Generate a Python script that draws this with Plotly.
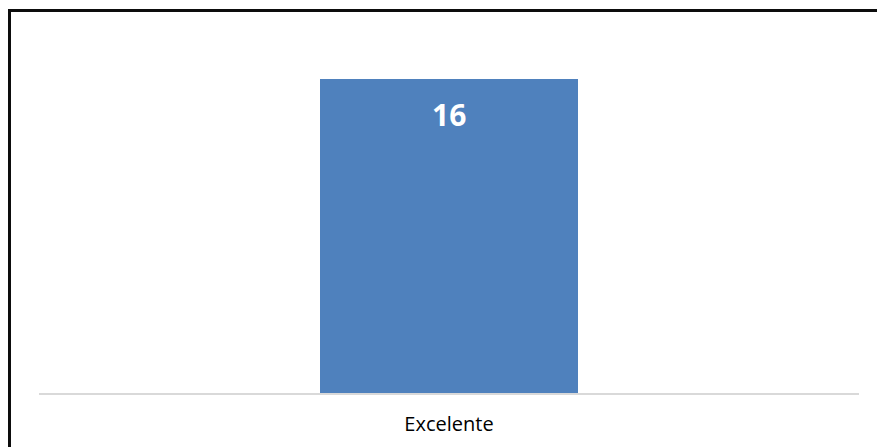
import plotly.graph_objects as go

categories = ["Excelente"]
values = [16]

bar_color = "#4f81bd"
W, H = 877, 447

fig = go.Figure()
fig.add_trace(go.Bar(
    x=categories,
    y=values,
    marker=dict(color=bar_color, line=dict(width=0)),
    width=0.315,
    hoverinfo="skip",
))

# value label inside the top of the bar
for cat, val in zip(categories, values):
    fig.add_annotation(
        x=cat, y=val, text=f"<b>{val}</b>", showarrow=False,
        yanchor="middle", yshift=-35,
        font=dict(family="Open Sans, sans-serif", size=30, color="white"),
    )

# outer frame of the chart area (top and left edges)
frame = dict(color="#0d0d0d", width=3)
fx = 9.5 / W
fy = 1 - 10.5 / H
fig.add_shape(type="path", xref="paper", yref="paper",
              path=f"M {fx},0 L {fx},{fy} L 1,{fy}", line=frame, layer="above")

fig.update_layout(
    width=W, height=H,
    margin=dict(l=0, r=0, t=0, b=0, pad=0, autoexpand=False),
    paper_bgcolor="white", plot_bgcolor="white",
    showlegend=False,
    bargap=0,
    xaxis=dict(
        domain=[39 / W, 859 / W],
        showline=True, linecolor="#d9d9d9", linewidth=2,
        ticks="", showgrid=False, automargin=False,
        ticklabelstandoff=12,
        tickfont=dict(family="Open Sans, sans-serif", size=20, color="#000000"),
        range=[-0.5, 0.5],
    ),
    yaxis=dict(
        domain=[(H - 393) / H, (H - 40) / H],
        range=[0, 18], visible=False, showgrid=False, zeroline=False,
        automargin=False,
    ),
)

fig.write_html("out.html", config={"displayModeBar": False})
